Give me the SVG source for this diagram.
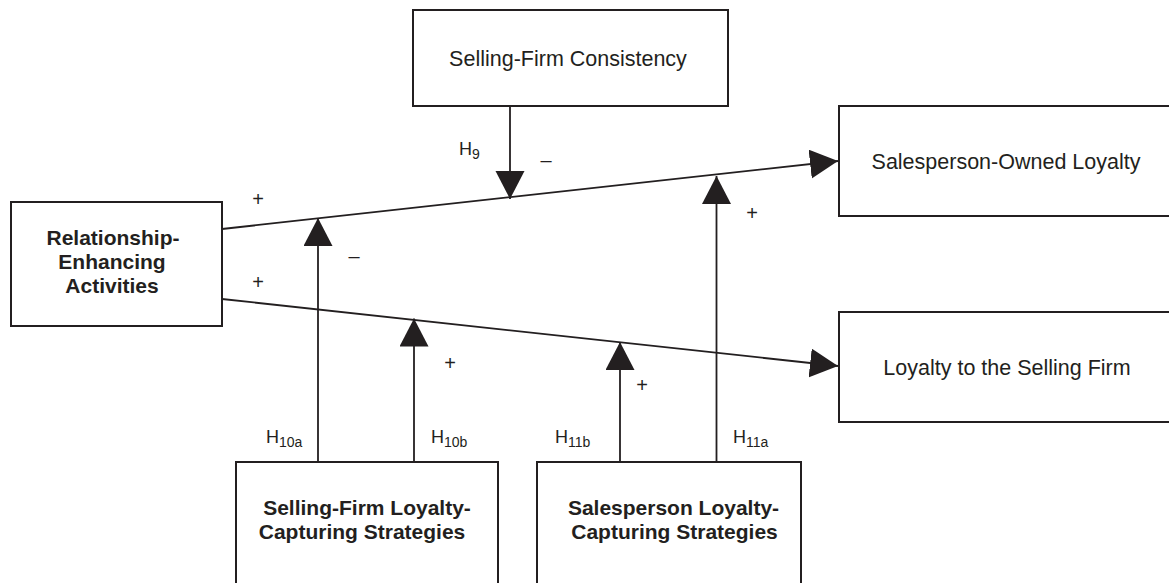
<svg xmlns="http://www.w3.org/2000/svg" width="1169" height="583" viewBox="0 0 1169 583">
<style>
.box{fill:#fff;stroke:#231f20;stroke-width:2}
.ln{stroke:#231f20;stroke-width:1.8;fill:none}
.t{font-family:"Liberation Sans",Arial,sans-serif;font-size:21.5px;fill:#231f20;text-anchor:middle}
.b{font-family:"Liberation Sans",Arial,sans-serif;font-size:21px;font-weight:bold;fill:#231f20;text-anchor:middle}
.h{font-family:"Liberation Sans",Arial,sans-serif;font-size:18px;fill:#231f20}
.s{font-family:"Liberation Sans",Arial,sans-serif;font-size:20px;fill:#231f20;text-anchor:middle}
</style>
<defs>
<marker id="ah" markerUnits="userSpaceOnUse" markerWidth="30" markerHeight="30" refX="28" refY="14.5" orient="auto">
<path d="M0,0 L28,14.5 L0,29 z" fill="#231f20"/>
</marker>
</defs>
<rect width="1169" height="583" fill="#fff"/>
<g id="connectors">
<line class="ln" x1="222" y1="229" x2="838" y2="161" marker-end="url(#ah)"/>
<line class="ln" x1="222" y1="299" x2="838" y2="366" marker-end="url(#ah)"/>
<line class="ln" x1="510" y1="106" x2="510" y2="199" marker-end="url(#ah)"/>
<line class="ln" x1="318" y1="462" x2="318" y2="218" marker-end="url(#ah)"/>
<line class="ln" x1="414" y1="462" x2="414" y2="318.5" marker-end="url(#ah)"/>
<line class="ln" x1="620" y1="462" x2="620" y2="342" marker-end="url(#ah)"/>
<line class="ln" x1="716.5" y1="462" x2="716.5" y2="176" marker-end="url(#ah)"/>
</g>
<g id="labels">
<text class="h" x="459" y="155">H<tspan font-size="14" dy="4">9</tspan></text>
<text class="h" x="266" y="443">H<tspan font-size="14" dy="4">10a</tspan></text>
<text class="h" x="431" y="443">H<tspan font-size="14" dy="4">10b</tspan></text>
<text class="h" x="555" y="443">H<tspan font-size="14" dy="4">11b</tspan></text>
<text class="h" x="733" y="443">H<tspan font-size="14" dy="4">11a</tspan></text>
<text class="s" x="258" y="206">+</text>
<text class="s" x="258" y="289">+</text>
<text class="s" x="546" y="167">–</text>
<text class="s" x="354" y="263">–</text>
<text class="s" x="752" y="220">+</text>
<text class="s" x="450" y="370">+</text>
<text class="s" x="642" y="392">+</text>
</g>
<g id="consistency">
<rect class="box" x="413" y="10" width="315" height="96"/>
<text class="t" x="568" y="65.5">Selling-Firm Consistency</text>
</g>
<g id="relationship">
<rect class="box" x="11" y="202" width="211" height="124"/>
<text class="b" x="113" y="244.5">Relationship-</text>
<text class="b" x="112" y="268.5">Enhancing</text>
<text class="b" x="112" y="293">Activities</text>
</g>
<g id="salesperson-owned">
<rect class="box" x="839" y="106" width="336" height="110"/>
<text class="t" x="1006" y="168.5">Salesperson-Owned Loyalty</text>
</g>
<g id="loyalty-firm">
<rect class="box" x="839" y="312" width="336" height="110"/>
<text class="t" x="1007" y="374.5">Loyalty to the Selling Firm</text>
</g>
<g id="firm-strategies">
<rect class="box" x="236" y="462" width="262" height="140"/>
<text class="b" x="367" y="515">Selling-Firm Loyalty-</text>
<text class="b" x="362" y="539">Capturing Strategies</text>
</g>
<g id="salesperson-strategies">
<rect class="box" x="537" y="462" width="264" height="140"/>
<text class="b" x="673.5" y="515">Salesperson Loyalty-</text>
<text class="b" x="674.5" y="539">Capturing Strategies</text>
</g>
</svg>
